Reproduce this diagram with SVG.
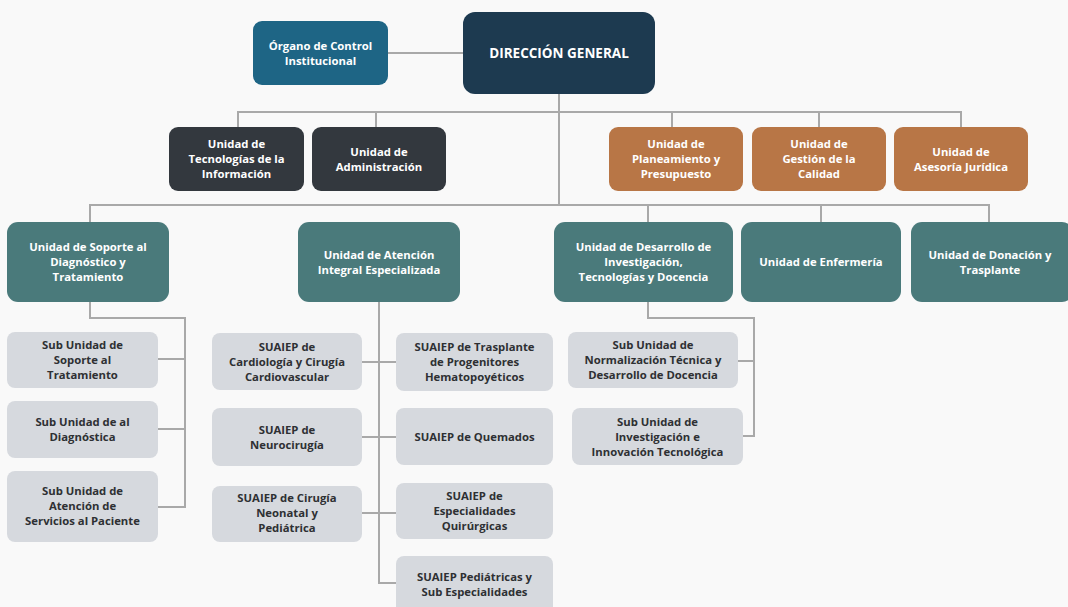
<svg xmlns="http://www.w3.org/2000/svg" width="1068" height="607" viewBox="0 0 1068 607">
<style>
text{font-family:"Open Sans",Lato,"Liberation Sans",sans-serif;font-weight:700;font-size:11.3px;text-anchor:middle}
.w{fill:#ffffff}
.d{fill:#2e3033}
.top{fill:#1d3a50}
.oci{fill:#1e6585}
.dark{fill:#33383e}
.or{fill:#b87646}
.tl{fill:#4a7a7b}
.sub{fill:#d6d9de}
.c{fill:none;stroke:#a9a9a9;stroke-width:2}
</style>
<rect width="1068" height="607" fill="#f9f9f9"/>
<g id="connectors">
<path class="c" d="M388 53H463"/>
<path class="c" d="M559 94V205"/>
<path class="c" d="M238 127V112H961V127M376 112V127M672 112V127M819 112V127"/>
<path class="c" d="M90 222V205H989V222M648 205V222M821 205V222"/>
<path class="c" d="M90 302V318H185V507H158M158 359H185M158 429H185"/>
<path class="c" d="M379 302V583H396M362 362H396M362 437H396M362 513H396"/>
<path class="c" d="M648 302V318H754V436H743M738 361H754"/>
</g>
<g id="dg"><rect class="top" x="463" y="12" width="192" height="82" rx="12"/><text class="w" x="559" y="58" style="font-size:13.5px">DIRECCIÓN GENERAL</text></g>
<g id="oci"><rect class="oci" x="253" y="21" width="135" height="64" rx="9"/><text class="w" x="320.5" y="50">Órgano de Control</text><text class="w" x="320.5" y="65">Institucional</text></g>
<g id="uti"><rect class="dark" x="169" y="127" width="135" height="64" rx="9"/><text class="w" x="236.5" y="148">Unidad de</text><text class="w" x="236.5" y="163">Tecnologías de la</text><text class="w" x="236.5" y="178">Información</text></g>
<g id="uadm"><rect class="dark" x="312" y="127" width="134" height="64" rx="9"/><text class="w" x="379" y="155.5">Unidad de</text><text class="w" x="379" y="170.5">Administración</text></g>
<g id="upp"><rect class="or" x="609" y="127" width="134" height="64" rx="9"/><text class="w" x="676" y="148">Unidad de</text><text class="w" x="676" y="163">Planeamiento y</text><text class="w" x="676" y="178">Presupuesto</text></g>
<g id="ugc"><rect class="or" x="752" y="127" width="134" height="64" rx="9"/><text class="w" x="819" y="148">Unidad de</text><text class="w" x="819" y="163">Gestión de la</text><text class="w" x="819" y="178">Calidad</text></g>
<g id="uaj"><rect class="or" x="894" y="127" width="134" height="64" rx="9"/><text class="w" x="961" y="155.5">Unidad de</text><text class="w" x="961" y="170.5">Asesoría Jurídica</text></g>
<g id="usdt"><rect class="tl" x="7" y="222" width="162" height="80" rx="11"/><text class="w" x="88" y="251">Unidad de Soporte al</text><text class="w" x="88" y="266">Diagnóstico y</text><text class="w" x="88" y="281">Tratamiento</text></g>
<g id="uaie"><rect class="tl" x="298" y="222" width="162" height="80" rx="11"/><text class="w" x="379" y="258.5">Unidad de Atención</text><text class="w" x="379" y="273.5">Integral Especializada</text></g>
<g id="udit"><rect class="tl" x="554" y="222" width="179" height="80" rx="11"/><text class="w" x="643.5" y="251">Unidad de Desarrollo de</text><text class="w" x="643.5" y="266">Investigación,</text><text class="w" x="643.5" y="281">Tecnologías y Docencia</text></g>
<g id="uenf"><rect class="tl" x="741" y="222" width="160" height="80" rx="11"/><text class="w" x="821" y="266">Unidad de Enfermería</text></g>
<g id="udt"><rect class="tl" x="911" y="222" width="162" height="80" rx="11"/><text class="w" x="990" y="258.5">Unidad de Donación y</text><text class="w" x="990" y="273.5">Trasplante</text></g>
<g id="sust"><rect class="sub" x="7" y="332" width="151" height="56" rx="8"/><text class="d" x="82.5" y="349">Sub Unidad de</text><text class="d" x="82.5" y="364">Soporte al</text><text class="d" x="82.5" y="379">Tratamiento</text></g>
<g id="sud"><rect class="sub" x="7" y="401" width="151" height="57" rx="8"/><text class="d" x="82.5" y="426">Sub Unidad de al</text><text class="d" x="82.5" y="441">Diagnóstica</text></g>
<g id="susp"><rect class="sub" x="7" y="471" width="151" height="71" rx="8"/><text class="d" x="82.5" y="495">Sub Unidad de</text><text class="d" x="82.5" y="510">Atención de</text><text class="d" x="82.5" y="525">Servicios al Paciente</text></g>
<g id="s1"><rect class="sub" x="212" y="333" width="150" height="57" rx="8"/><text class="d" x="287" y="350.5">SUAIEP de</text><text class="d" x="287" y="365.5">Cardiología y Cirugía</text><text class="d" x="287" y="380.5">Cardiovascular</text></g>
<g id="s2"><rect class="sub" x="212" y="408" width="150" height="58" rx="8"/><text class="d" x="287" y="433.5">SUAIEP de</text><text class="d" x="287" y="448.5">Neurocirugía</text></g>
<g id="s3"><rect class="sub" x="212" y="486" width="150" height="56" rx="8"/><text class="d" x="287" y="502">SUAIEP de Cirugía</text><text class="d" x="287" y="517">Neonatal y</text><text class="d" x="287" y="532">Pediátrica</text></g>
<g id="s4"><rect class="sub" x="396" y="333" width="157" height="58" rx="8"/><text class="d" x="474.5" y="351">SUAIEP de Trasplante</text><text class="d" x="474.5" y="366">de Progenitores</text><text class="d" x="474.5" y="381">Hematopoyéticos</text></g>
<g id="s5"><rect class="sub" x="396" y="408" width="157" height="57" rx="8"/><text class="d" x="474.5" y="440.5">SUAIEP de Quemados</text></g>
<g id="s6"><rect class="sub" x="396" y="483" width="157" height="56" rx="8"/><text class="d" x="474.5" y="500">SUAIEP de</text><text class="d" x="474.5" y="515">Especialidades</text><text class="d" x="474.5" y="530">Quirúrgicas</text></g>
<g id="s7"><rect class="sub" x="396" y="556" width="157" height="58" rx="8"/><text class="d" x="474.5" y="581">SUAIEP Pediátricas y</text><text class="d" x="474.5" y="596">Sub Especialidades</text></g>
<g id="sunt"><rect class="sub" x="568" y="332" width="170" height="56" rx="8"/><text class="d" x="653" y="349">Sub Unidad de</text><text class="d" x="653" y="364">Normalización Técnica y</text><text class="d" x="653" y="379">Desarrollo de Docencia</text></g>
<g id="suii"><rect class="sub" x="572" y="408" width="171" height="57" rx="8"/><text class="d" x="657.5" y="425.5">Sub Unidad de</text><text class="d" x="657.5" y="440.5">Investigación e</text><text class="d" x="657.5" y="455.5">Innovación Tecnológica</text></g>
</svg>
